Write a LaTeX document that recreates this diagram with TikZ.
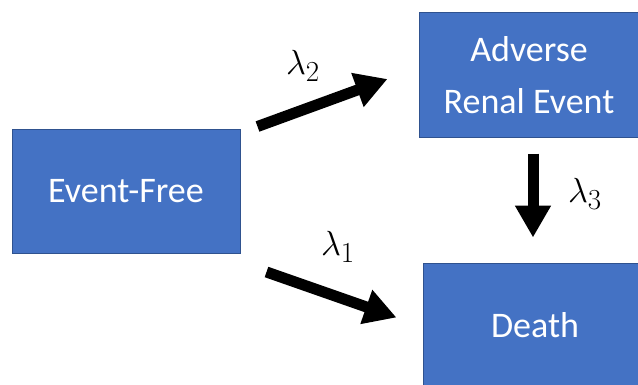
\documentclass[tikz,border=0pt]{standalone}
\usepackage{fontspec}
\setmainfont{Carlito}
\usepackage{tikz}
\usetikzlibrary{positioning, arrows.meta, calc}
\definecolor{boxblue}{RGB}{68, 114, 196}
\definecolor{boxedge}{RGB}{47, 82, 143}

\begin{document}
\begin{tikzpicture}[x=1pt, y=1pt,
    state/.style={draw=boxedge, line width=1pt, fill=boxblue, text=white,
      font=\fontsize{36}{52}\selectfont, align=center, inner sep=0pt},
    rate/.style={font=\fontsize{24.88}{30}\selectfont},
    flow/.style={line width=11pt, -{Triangle[length=32pt, width=34pt]}}]

  \useasboundingbox (0,0) rectangle (638,384);

  % States
  \node[state, minimum width=228pt, minimum height=124pt] (free) at (126,193) {Event-Free};
  \node[state, minimum width=220pt, minimum height=124pt] (renal) at (529,309) {Adverse\\Renal Event};
  \node[state, minimum width=224pt, minimum height=124pt] (death) at (535,59) {Death};

  % Transitions
  \draw[flow] ($(free.north east)+(17,2)$) -- ($(renal.west)+(-31,-4)$);
  \draw[flow] ($(free.east)+(26,-81)$) -- ($(death.north west)+(-26,-55)$);
  \draw[flow] ($(renal.south)+(4,-16)$) -- ($(death.north)+(-2,25)$);

  % Rates
  \node[rate] (lam2) at (303,318) {\scalebox{1.4}{$\lambda_2$}};
  \node[rate] (lam1) at (338,137) {\scalebox{1.4}{$\lambda_1$}};
  \node[rate] (lam3) at (585,190) {\scalebox{1.4}{$\lambda_3$}};
\end{tikzpicture}
\end{document}
